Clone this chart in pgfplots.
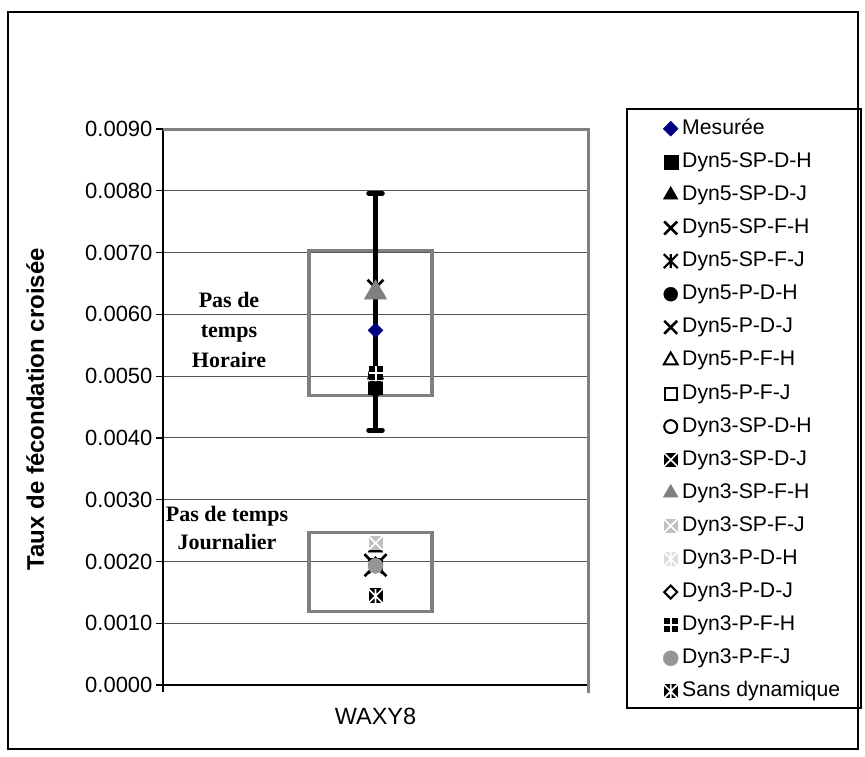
\documentclass[border=0pt]{standalone}
\usepackage{pgfplots}
\pgfplotsset{compat=1.18}
\usepackage{fontspec}
\setmainfont{Liberation Sans}
\newfontfamily\serifbf{Liberation Serif}
\definecolor{navy}{HTML}{000080}
\definecolor{xlgray}{HTML}{808080}
\definecolor{xcgray}{HTML}{969696}
\definecolor{xlight}{HTML}{C0C0C0}
\definecolor{xvlight}{HTML}{DDDDDD}
\definecolor{gridc}{HTML}{555555}

\pgfdeclareplotmark{boxx}{%
  \pgfpathrectangle{\pgfqpoint{-\pgfplotmarksize}{-\pgfplotmarksize}}{\pgfqpoint{2\pgfplotmarksize}{2\pgfplotmarksize}}%
  \pgfusepathqfill
  \pgfscope
  \pgfsetstrokecolor{white}\pgfsetlinewidth{1.6pt}%
  \pgfpathmoveto{\pgfqpoint{-\pgfplotmarksize}{-\pgfplotmarksize}}\pgfpathlineto{\pgfqpoint{\pgfplotmarksize}{\pgfplotmarksize}}%
  \pgfpathmoveto{\pgfqpoint{-\pgfplotmarksize}{\pgfplotmarksize}}\pgfpathlineto{\pgfqpoint{\pgfplotmarksize}{-\pgfplotmarksize}}%
  \pgfusepathqstroke
  \endpgfscope
}
\pgfdeclareplotmark{boxxv}{%
  \pgfpathrectangle{\pgfqpoint{-\pgfplotmarksize}{-\pgfplotmarksize}}{\pgfqpoint{2\pgfplotmarksize}{2\pgfplotmarksize}}%
  \pgfusepathqfill
  \pgfscope
  \pgfsetstrokecolor{white}\pgfsetlinewidth{1.6pt}%
  \pgfpathmoveto{\pgfqpoint{-\pgfplotmarksize}{-\pgfplotmarksize}}\pgfpathlineto{\pgfqpoint{\pgfplotmarksize}{\pgfplotmarksize}}%
  \pgfpathmoveto{\pgfqpoint{-\pgfplotmarksize}{\pgfplotmarksize}}\pgfpathlineto{\pgfqpoint{\pgfplotmarksize}{-\pgfplotmarksize}}%
  \pgfpathmoveto{\pgfqpoint{0pt}{-\pgfplotmarksize}}\pgfpathlineto{\pgfqpoint{0pt}{\pgfplotmarksize}}%
  \pgfusepathqstroke
  \endpgfscope
}
\pgfdeclareplotmark{quad}{%
  \pgfpathrectangle{\pgfqpoint{-\pgfplotmarksize}{-\pgfplotmarksize}}{\pgfqpoint{2\pgfplotmarksize}{2\pgfplotmarksize}}%
  \pgfusepathqfill
  \pgfscope
  \pgfsetstrokecolor{white}\pgfsetlinewidth{2pt}%
  \pgfpathmoveto{\pgfqpoint{0pt}{-\pgfplotmarksize}}\pgfpathlineto{\pgfqpoint{0pt}{\pgfplotmarksize}}%
  \pgfpathmoveto{\pgfqpoint{-\pgfplotmarksize}{0pt}}\pgfpathlineto{\pgfqpoint{\pgfplotmarksize}{0pt}}%
  \pgfusepathqstroke
  \endpgfscope
}
\pgfdeclareplotmark{bigx}{%
  \pgfpathmoveto{\pgfqpoint{-\pgfplotmarksize}{-\pgfplotmarksize}}\pgfpathlineto{\pgfqpoint{\pgfplotmarksize}{\pgfplotmarksize}}%
  \pgfpathmoveto{\pgfqpoint{-\pgfplotmarksize}{\pgfplotmarksize}}\pgfpathlineto{\pgfqpoint{\pgfplotmarksize}{-\pgfplotmarksize}}%
  \pgfusepathqstroke
}
\pgfdeclareplotmark{xstar}{%
  \pgfpathmoveto{\pgfqpoint{-\pgfplotmarksize}{-\pgfplotmarksize}}\pgfpathlineto{\pgfqpoint{\pgfplotmarksize}{\pgfplotmarksize}}%
  \pgfpathmoveto{\pgfqpoint{-\pgfplotmarksize}{\pgfplotmarksize}}\pgfpathlineto{\pgfqpoint{\pgfplotmarksize}{-\pgfplotmarksize}}%
  \pgfpathmoveto{\pgfqpoint{0pt}{-\pgfplotmarksize}}\pgfpathlineto{\pgfqpoint{0pt}{\pgfplotmarksize}}%
  \pgfusepathqstroke
}

\begin{document}
\begin{tikzpicture}
\useasboundingbox (0pt,0pt) rectangle (865pt,-756pt);
\draw[line width=1.2pt] (8pt,-12pt) rectangle (858pt,-749pt);
\draw[line width=1.2pt] (627pt,-109pt) rectangle (861pt,-708pt);
\begin{axis}[
  at={(163pt,-685pt)}, anchor=south west,
  scale only axis, width=425pt, height=556pt,
  xmin=0, xmax=2, ymin=0, ymax=0.009,
  axis x line*=bottom, axis y line*=left,
  axis line style={line width=1.5pt, black},
  xtick={0,2}, xticklabels={},
  extra x ticks={1}, extra x tick labels={WAXY8},
  extra x tick style={major tick length=0pt, grid=none, xticklabel style={yshift=-20pt, font=\fontsize{23.5}{26}\selectfont}},
  ytick={0,0.001,0.002,0.003,0.004,0.005,0.006,0.007,0.008,0.009},
  ymajorgrids, grid style={line width=1pt, gridc},
  tick align=outside, major tick length=7pt, tick style={line width=1.2pt, black},
  scaled y ticks=false,
  yticklabel style={/pgf/number format/.cd, fixed, fixed zerofill, precision=4, assume math mode=true},
  tick label style={font=\fontsize{22}{24}\selectfont},
  ylabel={Taux de fécondation croisée},
  ylabel style={font=\bfseries\fontsize{24}{26}\selectfont, at={(axis description cs:-0.301,0.496)}, anchor=center},
  clip=false,
  only marks,
  legend image code/.code={\draw[#1] plot coordinates {(0pt,0pt)};},
  legend cell align=left,
  legend style={draw=none, fill=none, at={(axis description cs:1.1765,1.0180)}, anchor=north west,
    font=\fontsize{21.2}{24}\selectfont, inner sep=0pt, row sep=14.1pt, column sep=4pt,
    nodes={text height=15pt, text depth=4pt, inner sep=0pt}},
]
\draw[xlgray, line width=3pt] (rel axis cs:0,1) -- (rel axis cs:1,1) -- (rel axis cs:1,-0.015);
\draw[xlgray, line width=3.5pt] (axis cs:0.687,0.00703) rectangle (axis cs:1.266,0.00469);
\draw[xlgray, line width=3.5pt] (axis cs:0.687,0.00247) rectangle (axis cs:1.266,0.00119);

\addplot[forget plot, mark=none, black, error bars/.cd, y dir=both, y explicit,
  error bar style={line width=5.5pt, black},
  error mark options={line width=4.5pt, mark size=7pt, rotate=90, line cap=round, black}]
  coordinates {(1,0.00574) += (0,0.00222) -= (0,0.00162)};

\addplot[mark=diamond*, mark size=7.5pt, mark options={xscale=1.33, draw=navy, fill=navy}] coordinates {(1,0.00574)};
\addlegendentry{Mesurée}
\addplot[mark=square*, mark size=7pt, mark options={draw=black, fill=black}] coordinates {(1,0.00482)};
\addlegendentry{Dyn5-SP-D-H}
\addplot[mark=triangle*, mark size=8.5pt, mark options={draw=black, fill=black}] coordinates {(1,0.00222)};
\addlegendentry{Dyn5-SP-D-J}
\addplot[mark=bigx, mark size=8pt, mark options={draw=black, line width=2.6pt}, legend image post style={mark size=6.5pt, line width=2.2pt}] coordinates {(1,0.00643)};
\addlegendentry{Dyn5-SP-F-H}
\addplot[mark=xstar, mark size=7pt, mark options={draw=black, line width=2.2pt}] coordinates {(1,0.00192)};
\addlegendentry{Dyn5-SP-F-J}
\addplot[mark=*, mark size=7pt, mark options={draw=black, fill=black}] coordinates {(1,0.00479)};
\addlegendentry{Dyn5-P-D-H}
\addplot[mark=bigx, mark size=11pt, mark options={draw=black, line width=2.6pt}, legend image post style={mark size=6.5pt, line width=2.2pt}] coordinates {(1,0.00194)};
\addlegendentry{Dyn5-P-D-J}
\addplot[mark=triangle, mark size=8pt, mark options={draw=black, fill=white, line width=2pt}] coordinates {(1,0.00503)};
\addlegendentry{Dyn5-P-F-H}
\addplot[mark=square, mark size=6pt, mark options={draw=black, fill=white, line width=2pt}] coordinates {(1,0.00195)};
\addlegendentry{Dyn5-P-F-J}
\addplot[mark=o, mark size=6.5pt, mark options={draw=black, fill=white, line width=2pt}] coordinates {(1,0.00503)};
\addlegendentry{Dyn3-SP-D-H}
\addplot[mark=boxx, mark size=7pt, mark options={fill=black}] coordinates {(1,0.00145)};
\addlegendentry{Dyn3-SP-D-J}
\addplot[mark=triangle*, mark size=13pt, mark options={draw=xlgray, fill=xlgray}, legend image post style={mark size=8.5pt}] coordinates {(1,0.00635)};
\addlegendentry{Dyn3-SP-F-H}
\addplot[mark=boxx, mark size=7pt, mark options={fill=xlight}] coordinates {(1,0.00230)};
\addlegendentry{Dyn3-SP-F-J}
\addplot[mark=boxxv, mark size=7pt, mark options={fill=xvlight}] coordinates {(1,0.00503)};
\addlegendentry{Dyn3-P-D-H}
\addplot[mark=diamond, mark size=6.5pt, mark options={xscale=1.33, draw=black, fill=white, line width=2pt}] coordinates {(1,0.00196)};
\addlegendentry{Dyn3-P-D-J}
\addplot[mark=quad, mark size=7pt, mark options={fill=black}] coordinates {(1,0.00505)};
\addlegendentry{Dyn3-P-F-H}
\addplot[mark=*, mark size=7.5pt, mark options={draw=xcgray, fill=xcgray}] coordinates {(1,0.00193)};
\addlegendentry{Dyn3-P-F-J}
\addplot[mark=boxxv, mark size=7pt, mark options={fill=black}] coordinates {(1,0.00144)};
\addlegendentry{Sans dynamique}
\end{axis}
\node[font=\serifbf\bfseries\fontsize{22}{30}\selectfont, align=center] at (229pt,-330pt) {Pas de\\temps\\Horaire};
\node[font=\serifbf\bfseries\fontsize{22}{28}\selectfont, align=center] at (227pt,-528pt) {Pas de temps\\Journalier};
\end{tikzpicture}
\end{document}
